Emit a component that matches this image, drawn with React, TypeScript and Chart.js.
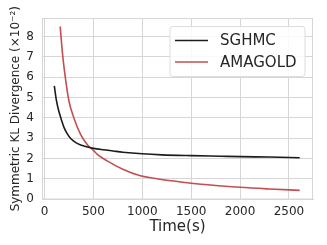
import React, { useEffect, useRef } from "react";
import { Chart, registerables } from "chart.js";

Chart.register(...registerables);

const sghmcTime = [100, 120, 145, 170, 200, 230, 270, 320, 380, 450, 500, 600, 700, 800, 1000, 1200, 1500, 1800, 2000, 2300, 2610];
const sghmcKL = [5.58, 4.9, 4.35, 3.95, 3.52, 3.24, 2.97, 2.78, 2.65, 2.55, 2.5, 2.43, 2.37, 2.31, 2.23, 2.18, 2.14, 2.11, 2.09, 2.07, 2.04];

const amagoldTime = [160, 185, 218, 250, 300, 370, 440, 500, 540, 640, 800, 980, 1100, 1300, 1500, 1750, 2000, 2300, 2610];
const amagoldKL = [8.5, 7.1, 5.8, 4.82, 4.0, 3.18, 2.67, 2.4, 2.2, 1.88, 1.47, 1.15, 1.04, 0.9, 0.78, 0.67, 0.58, 0.5, 0.43];

const xTicks = [0, 500, 1000, 1500, 2000, 2500];
const yTicks = [0, 1, 2, 3, 4, 5, 6, 7, 8];

const seriesNames = ["SGHMC", "AMAGOLD"];
const seriesColors = ["#1c1c1c", "#c44e52"];

const FONT = "'DejaVu Sans', sans-serif";
const TEXT = "#262626";
const GRID = "#d6d6d6";

const frameAndLegend = {
  id: "frameAndLegend",
  afterDraw(chart: any) {
    const { ctx, chartArea } = chart;
    ctx.save();
    ctx.strokeStyle = GRID;
    ctx.lineWidth = 1;
    ctx.strokeRect(chartArea.left + 0.5, chartArea.top + 0.5, chartArea.right - chartArea.left - 1, chartArea.bottom - chartArea.top - 1);

    // legend
    const w = 135;
    const h = 50;
    const x0 = chartArea.right - 8 - w;
    const y0 = chartArea.top + 8.5;
    ctx.fillStyle = "rgba(255,255,255,0.85)";
    ctx.strokeStyle = "#dddddd";
    ctx.beginPath();
    const r = 3;
    ctx.moveTo(x0 + r, y0);
    ctx.lineTo(x0 + w - r, y0);
    ctx.quadraticCurveTo(x0 + w, y0, x0 + w, y0 + r);
    ctx.lineTo(x0 + w, y0 + h - r);
    ctx.quadraticCurveTo(x0 + w, y0 + h, x0 + w - r, y0 + h);
    ctx.lineTo(x0 + r, y0 + h);
    ctx.quadraticCurveTo(x0, y0 + h, x0, y0 + h - r);
    ctx.lineTo(x0, y0 + r);
    ctx.quadraticCurveTo(x0, y0, x0 + r, y0);
    ctx.closePath();
    ctx.fill();
    ctx.stroke();

    ctx.font = `15px ${FONT}`;
    ctx.textBaseline = "middle";
    ctx.textAlign = "left";
    chart.data.datasets.forEach((ds: any, i: number) => {
      const yy = y0 + 14 + i * 21.5;
      ctx.strokeStyle = ds.borderColor;
      ctx.lineWidth = 1.5;
      ctx.beginPath();
      ctx.moveTo(x0 + 5, yy);
      ctx.lineTo(x0 + 38, yy);
      ctx.stroke();
      ctx.fillStyle = TEXT;
      ctx.fillText(ds.label, x0 + 50, yy + 1);
    });
    ctx.restore();
  },
};

export default function App() {
  const ref = useRef<HTMLCanvasElement>(null);

  useEffect(() => {
    document.body.style.margin = "0";
    const canvas = ref.current!;
    const chart = new Chart(canvas, {
      type: "line",
      data: {
        datasets: [
          {
            label: seriesNames[0],
            data: sghmcTime.map((t, i) => ({ x: t, y: sghmcKL[i] })),
            borderColor: seriesColors[0],
            borderWidth: 1.6,
            pointRadius: 0,
            cubicInterpolationMode: "monotone",
            fill: false,
          },
          {
            label: seriesNames[1],
            data: amagoldTime.map((t, i) => ({ x: t, y: amagoldKL[i] })),
            borderColor: seriesColors[1],
            borderWidth: 1.6,
            pointRadius: 0,
            cubicInterpolationMode: "monotone",
            fill: false,
          },
        ],
      },
      options: {
        responsive: false,
        animation: false,
        layout: { padding: { left: 0, top: 18, right: 14, bottom: 0 } },
        plugins: {
          legend: { display: false },
          tooltip: { enabled: false },
        },
        scales: {
          x: {
            type: "linear",
            min: -26,
            max: 2746,
            afterBuildTicks: (s: any) => {
              s.ticks = xTicks.map((v) => ({ value: v }));
            },
            afterFit: (s: any) => {
              s.height = 45.5;
            },
            grid: { color: GRID, lineWidth: 1, drawTicks: false },
            border: { color: GRID, width: 1 },
            ticks: {
              color: TEXT,
              font: { family: FONT, size: 12 },
              padding: 5,
              maxRotation: 0,
              autoSkip: false,
              callback: (v: any) => String(v),
            },
            title: {
              display: true,
              text: "Time(s)",
              color: TEXT,
              font: { family: FONT, size: 15 },
              padding: { top: 0, bottom: 9 },
            },
          },
          y: {
            type: "linear",
            min: -0.02,
            max: 8.92,
            afterBuildTicks: (s: any) => {
              s.ticks = yTicks.map((v) => ({ value: v }));
            },
            afterFit: (s: any) => {
              s.width = 42;
            },
            grid: { color: GRID, lineWidth: 1, drawTicks: false },
            border: { color: GRID, width: 1 },
            ticks: {
              color: TEXT,
              font: { family: FONT, size: 12 },
              padding: 8,
              autoSkip: false,
              callback: (v: any) => String(v),
            },
            title: {
              display: true,
              text: "Symmetric KL Divergence (×10⁻²)",
              color: TEXT,
              font: { family: FONT, size: 12 },
              padding: { top: 8.5, bottom: 0 },
            },
          },
        },
      },
      plugins: [frameAndLegend],
    });
    return () => chart.destroy();
  }, []);

  return (
    <canvas
      ref={ref}
      width={327}
      height={245}
      style={{ position: "fixed", left: 0, top: 0, width: 327, height: 245 }}
    />
  );
}
